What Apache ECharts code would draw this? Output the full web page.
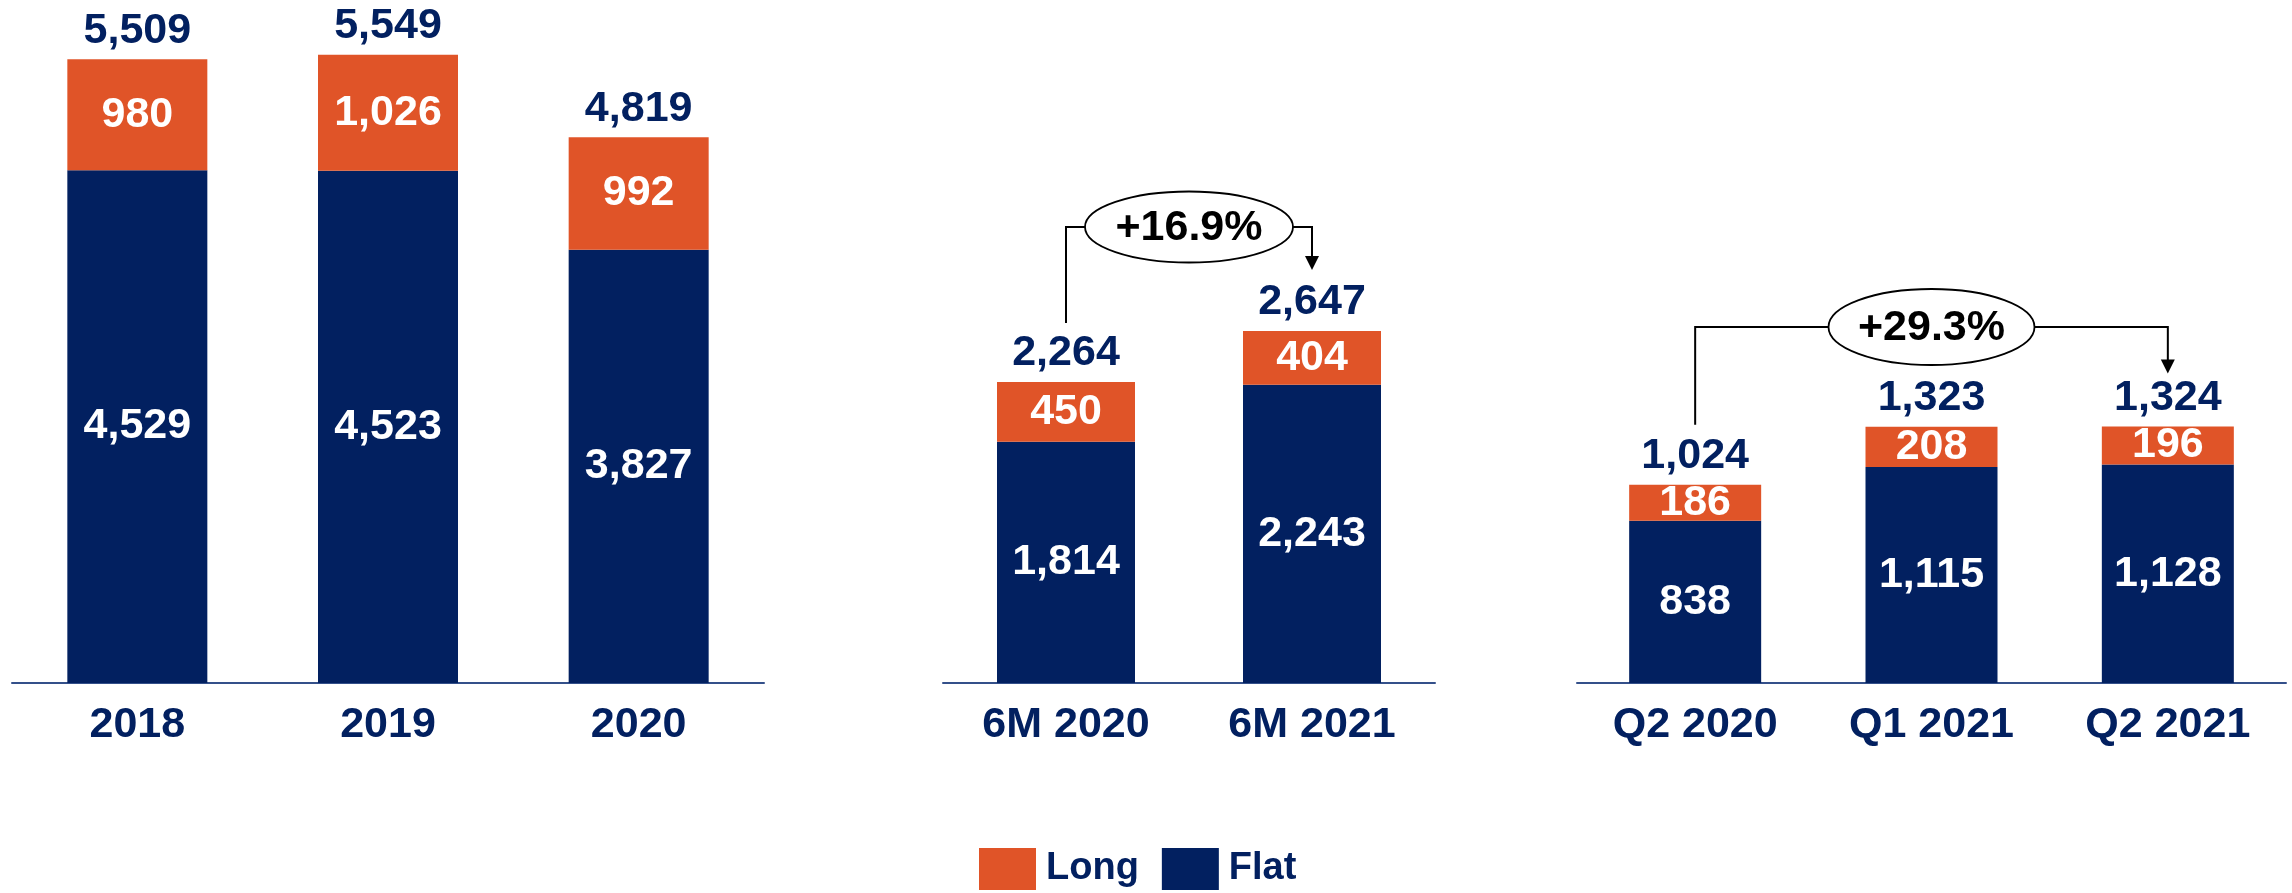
<!DOCTYPE html>
<html><head><meta charset="utf-8">
<script src="https://cdn.jsdelivr.net/npm/echarts@6/dist/echarts.min.js"></script>
<style>html,body{margin:0;padding:0;background:#fff}#c{width:2292px;height:893px}</style>
</head><body><div id="c"></div>
<script>
// ---- data ----
const catsAnnual = ['2018', '2019', '2020'];
const flatAnnual = [4529, 4523, 3827];
const longAnnual = [980, 1026, 992];
const cats6M = ['6M 2020', '6M 2021'];
const flat6M = [1814, 2243];
const long6M = [450, 404];
const catsQ = ['Q2 2020', 'Q1 2021', 'Q2 2021'];
const flatQ = [838, 1115, 1128];
const longQ = [186, 208, 196];
const growth6M = '+16.9%';
const growthQ = '+29.3%';
const legendNames = ['Long', 'Flat'];

// ---- style ----
const NAVY = '#022060';
const ORANGE = '#E05428';
const FONT = 'Liberation Sans, Arial, sans-serif';
const FS = 43;

const panels = [
  { cats: catsAnnual, flat: flatAnnual, long: longAnnual, left: 12, width: 752, max: 6032, barW: 140 },
  { cats: cats6M, flat: flat6M, long: long6M, left: 943, width: 492, max: 5137, barW: 138 },
  { cats: catsQ, flat: flatQ, long: longQ, left: 1577, width: 709, max: 3527, barW: 132 }
];
const fmt = v => Number(v).toLocaleString('en-US');

const grid = [], xAxis = [], yAxis = [], series = [];
panels.forEach((p, i) => {
  grid.push({ left: p.left, width: p.width, top: 0, height: 683 });
  xAxis.push({
    type: 'category', gridIndex: i, data: p.cats,
    axisTick: { show: false },
    axisLine: { lineStyle: { color: '#34508a', width: 2 } },
    axisLabel: { color: NAVY, fontFamily: FONT, fontWeight: 'bold', fontSize: FS, margin: 21 }
  });
  yAxis.push({ type: 'value', gridIndex: i, min: 0, max: p.max, show: false, splitLine: { show: false } });
  const totals = p.flat.map((v, k) => v + p.long[k]);
  series.push({
    name: 'Flat', type: 'bar', stack: 's' + i, xAxisIndex: i, yAxisIndex: i,
    data: p.flat, barWidth: p.barW, itemStyle: { color: NAVY },
    label: { show: true, position: 'inside', color: '#fff', fontFamily: FONT, fontWeight: 'bold', fontSize: FS, formatter: o => fmt(o.value) }
  });
  series.push({
    name: 'Long', type: 'bar', stack: 's' + i, xAxisIndex: i, yAxisIndex: i,
    data: p.long, barWidth: p.barW, itemStyle: { color: ORANGE },
    label: { show: true, position: 'inside', color: '#fff', fontFamily: FONT, fontWeight: 'bold', fontSize: FS, formatter: o => fmt(o.value) }
  });
  series.push({
    name: 'Total', type: 'scatter', xAxisIndex: i, yAxisIndex: i,
    data: totals, symbolSize: 0, silent: true,
    itemStyle: { opacity: 1, color: NAVY },
    label: { show: true, position: 'top', distance: 7, color: NAVY, opacity: 1, fontFamily: FONT, fontWeight: 'bold', fontSize: FS, formatter: o => fmt(o.value) }
  });
});

const chart = echarts.init(document.getElementById('c'), null, { renderer: 'canvas' });
chart.setOption({
  animation: false,
  backgroundColor: '#fff',
  grid, xAxis, yAxis, series,
  legend: {
    data: legendNames, left: 979, top: 848, padding: 0, itemGap: 23,
    itemWidth: 57, itemHeight: 42, icon: 'rect',
    textStyle: { color: NAVY, fontFamily: FONT, fontWeight: 'bold', fontSize: 38, padding: [0, 0, 0, 5] }
  }
});

// ---- growth annotations, positioned from the chart's own scales ----
function annotation(gi, fromIdx, toIdx, midIdxOrNull, label, levelY, ry, rx, leftGap, tipGap) {
  const p = panels[gi];
  const a = chart.convertToPixel({ gridIndex: gi }, [fromIdx, p.flat[fromIdx] + p.long[fromIdx]]);
  const b = chart.convertToPixel({ gridIndex: gi }, [toIdx, p.flat[toIdx] + p.long[toIdx]]);
  let cx;
  if (midIdxOrNull === null) cx = (a[0] + b[0]) / 2;
  else cx = chart.convertToPixel({ gridIndex: gi }, [midIdxOrNull, 0])[0];
  const tipY = b[1] - tipGap;
  const ls = { stroke: '#000', lineWidth: 2, fill: null };
  return [
    { type: 'polyline', shape: { points: [[a[0], a[1] - leftGap], [a[0], levelY], [cx - rx, levelY]] }, style: ls, z: 10 },
    { type: 'polyline', shape: { points: [[cx + rx, levelY], [b[0], levelY], [b[0], tipY - 12]] }, style: ls, z: 10 },
    { type: 'polygon', shape: { points: [[b[0] - 7, tipY - 14], [b[0] + 7, tipY - 14], [b[0], tipY]] }, style: { fill: '#000' }, z: 10 },
    { type: 'ellipse', shape: { cx: cx, cy: levelY, rx: rx, ry: ry }, style: { fill: '#fff', stroke: '#000', lineWidth: 1.8 }, z: 11 },
    { type: 'text', x: cx, y: levelY + 1, style: { text: label, fill: '#000', font: 'bold ' + FS + 'px ' + FONT, align: 'center', verticalAlign: 'middle' }, z: 12 }
  ];
}
const g = [].concat(
  annotation(1, 0, 1, null, growth6M, 227, 35.5, 104, 59, 61),
  annotation(2, 0, 2, 1, growthQ, 327, 38, 103, 60, 53)
);
chart.setOption({ graphic: g });
</script>
</body></html>
